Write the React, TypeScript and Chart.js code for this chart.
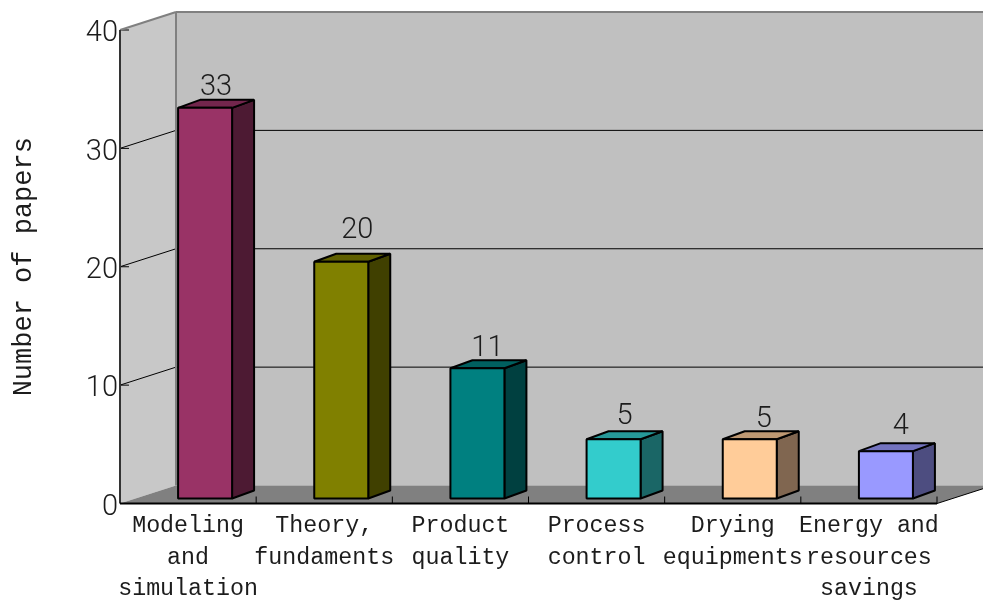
import React, { useEffect, useRef } from "react";
import { Chart, registerables } from "chart.js";

Chart.register(...registerables);

const categories: string[][] = [
  ["Modeling", "and", "simulation"],
  ["Theory,", "fundaments"],
  ["Product", "quality"],
  ["Process", "control"],
  ["Drying", "equipments"],
  ["Energy and", "resources", "savings"],
];
const paperCounts: number[] = [33, 20, 11, 5, 5, 4];
const faceColors: string[] = ["#993366", "#808000", "#008080", "#33CCCC", "#FFCC99", "#9999FF"];
const topColors: string[] = ["#73264D", "#606000", "#006060", "#269999", "#BF9973", "#7373BF"];
const sideColors: string[] = ["#4D1A33", "#404000", "#004040", "#1A6666", "#806650", "#4D4D80"];
// Small per-label shifts from the default label spot above a column.
const labelShiftX: number[] = [0, 5, -1, 0, 3, 4];
const labelShiftY: number[] = [0, -11, 0, -3, 0, -4];

const MONO = "'Liberation Mono', monospace";
const DIGITS = "Roboto, sans-serif";
const INK = "#1c1c1c";
const WALL_DX = 56;
const WALL_DY = 18;
const BAR_SHIFT_X = 17;
const BAR_SHIFT_Y = 5;
const BAR_DX = 22;
const BAR_DY = 8;

function poly(ctx: CanvasRenderingContext2D, pts: number[][], fill?: string, stroke?: string, lw = 1) {
  ctx.beginPath();
  pts.forEach(([x, y], i) => (i ? ctx.lineTo(x, y) : ctx.moveTo(x, y)));
  ctx.closePath();
  if (fill) {
    ctx.fillStyle = fill;
    ctx.fill();
  }
  if (stroke) {
    ctx.strokeStyle = stroke;
    ctx.lineWidth = lw;
    ctx.lineJoin = "bevel";
    ctx.stroke();
  }
}

function seg(ctx: CanvasRenderingContext2D, x1: number, y1: number, x2: number, y2: number, color: string, lw = 1) {
  ctx.beginPath();
  ctx.moveTo(x1, y1);
  ctx.lineTo(x2, y2);
  ctx.strokeStyle = color;
  ctx.lineWidth = lw;
  ctx.stroke();
}

// Box walls, floor, grid lines and axis ticks around the plot.
const roomPlugin = {
  id: "room",
  beforeDatasetsDraw(chart: any) {
    const { ctx, scales, chartArea } = chart;
    const { left, right, top, bottom } = chartArea;
    const yS = scales.y;
    const xS = scales.x;
    ctx.save();
    poly(ctx, [[left + WALL_DX, top - WALL_DY], [right + WALL_DX, top - WALL_DY], [right + WALL_DX, bottom - WALL_DY], [left + WALL_DX, bottom - WALL_DY]], "#C0C0C0");
    poly(ctx, [[left, top], [left + WALL_DX, top - WALL_DY], [left + WALL_DX, bottom - WALL_DY], [left, bottom]], "#C8C8C8");
    poly(ctx, [[left, bottom], [right, bottom], [right + WALL_DX, bottom - WALL_DY], [left + WALL_DX, bottom - WALL_DY]], "#808080");

    yS.ticks.forEach((t: any) => {
      const y = yS.getPixelForValue(t.value);
      if (t.value > 0 && t.value < yS.max) {
        seg(ctx, left, y, left + WALL_DX, y - WALL_DY, "#000");
        seg(ctx, left + WALL_DX, y - WALL_DY, right + WALL_DX, y - WALL_DY, "#000");
      }
      seg(ctx, left, y, left + 9, y, "#000");
    });

    seg(ctx, left, top, left + WALL_DX, top - WALL_DY, "#808080", 2);
    seg(ctx, left + WALL_DX, top - WALL_DY, right + WALL_DX, top - WALL_DY, "#808080", 2);
    seg(ctx, left + WALL_DX, top - WALL_DY, left + WALL_DX, bottom - WALL_DY, "#808080", 2);

    seg(ctx, left, top, left, bottom, "#333", 2);
    seg(ctx, left, bottom, right, bottom, "#000", 2);
    seg(ctx, right, bottom, right + WALL_DX, bottom - WALL_DY, "#000");
    const step = (right - left) / categories.length;
    categories.forEach((_, i) => {
      const x = xS.getPixelForValue(i) + step / 2;
      seg(ctx, x, bottom, x, bottom - 7, "#000");
    });

    // Top and side faces of every column, offset into the box depth.
    chart.getDatasetMeta(0).data.forEach((bar: any, i: number) => {
      const half = bar.width / 2;
      const l = bar.x - half + BAR_SHIFT_X;
      const r = bar.x + half + BAR_SHIFT_X;
      const t = bar.y - BAR_SHIFT_Y;
      const b = bar.base - BAR_SHIFT_Y;
      poly(ctx, [[r, t], [r + BAR_DX, t - BAR_DY], [r + BAR_DX, b - BAR_DY], [r, b]], sideColors[i], "#000", 2);
      poly(ctx, [[l, t], [l + BAR_DX, t - BAR_DY], [r + BAR_DX, t - BAR_DY], [r, t]], topColors[i], "#000", 2);
    });
    ctx.restore();
  },
  beforeDatasetDraw(chart: any) {
    chart.ctx.save();
    chart.ctx.translate(BAR_SHIFT_X, -BAR_SHIFT_Y);
  },
  afterDatasetDraw(chart: any) {
    chart.ctx.restore();
  },
  afterDatasetsDraw(chart: any) {
    const { ctx } = chart;
    ctx.save();
    ctx.font = `300 29px ${DIGITS}`;
    ctx.fillStyle = INK;
    ctx.textAlign = "center";
    ctx.textBaseline = "middle";
    chart.getDatasetMeta(0).data.forEach((bar: any, i: number) => {
      const half = bar.width / 2;
      const l = bar.x - half + BAR_SHIFT_X;
      const t = bar.y - BAR_SHIFT_Y;
      const h = bar.base - bar.y;
      // Front outline over the filled face.
      poly(ctx, [[l, t], [l + 2 * half, t], [l + 2 * half, t + h], [l, t + h]], undefined, "#000", 2);
      const x = bar.x + BAR_SHIFT_X + BAR_DX / 2 + labelShiftX[i];
      const y = t - 20 + labelShiftY[i];
      ctx.fillText(String(paperCounts[i]), x, y);
    });
    ctx.restore();
  },
};

export default function App() {
  const ref = useRef<HTMLCanvasElement | null>(null);

  useEffect(() => {
    if (!ref.current) return;
    const chart = new Chart(ref.current, {
      type: "bar",
      data: {
        labels: categories,
        datasets: [
          {
            label: "Number of papers",
            data: paperCounts,
            backgroundColor: faceColors,
            borderWidth: 0,
            barThickness: 54,
            clip: false,
          } as any,
        ],
      },
      options: {
        responsive: false,
        animation: false,
        layout: { padding: { top: 30, right: 46, left: 0, bottom: 0 } },
        plugins: { legend: { display: false }, tooltip: { enabled: false } },
        scales: {
          x: {
            grid: { display: false, drawTicks: false },
            border: { display: false },
            ticks: {
              autoSkip: false,
              maxRotation: 0,
              minRotation: 0,
              padding: 6,
              color: INK,
              font: { family: MONO, size: 23.3, lineHeight: 1.37 },
            },
            afterFit(scale: any) {
              scale.height = 97.5;
            },
          },
          y: {
            min: 0,
            max: 40,
            grid: { display: false, drawTicks: false },
            border: { display: false },
            ticks: {
              stepSize: 10,
              padding: 2,
              labelOffset: 4,
              color: INK,
              font: { family: DIGITS, size: 29, weight: "300" },
            },
            title: {
              display: true,
              text: "Number of papers",
              color: INK,
              padding: { top: 8, bottom: 0 },
              font: { family: MONO, size: 27, weight: "normal" },
            },
            afterFit(scale: any) {
              scale.width = 120;
            },
          },
        },
      },
      plugins: [roomPlugin],
    });
    return () => chart.destroy();
  }, []);

  return (
    <div style={{ position: "fixed", left: 0, top: 0, width: 983, height: 601, overflow: "hidden", background: "#fff" }}>
      <canvas ref={ref} width={983} height={601} style={{ display: "block" }} />
    </div>
  );
}
